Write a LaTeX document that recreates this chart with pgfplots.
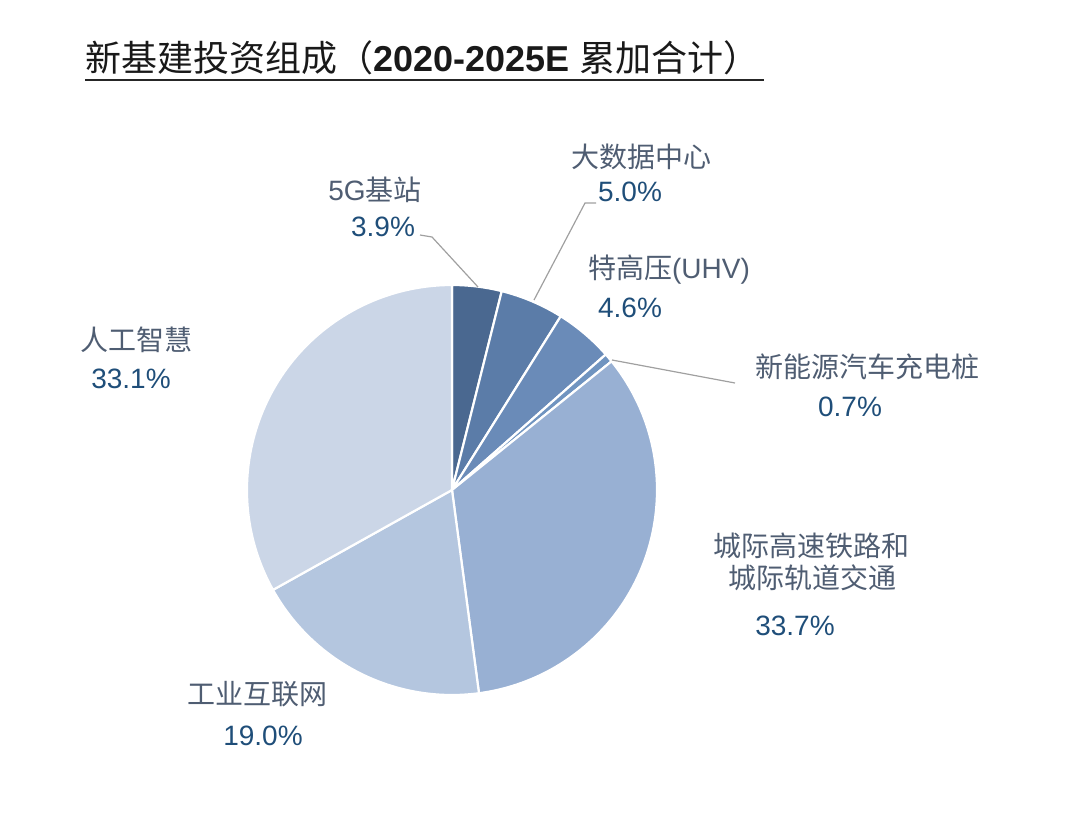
\documentclass[border=0pt]{standalone}
\usepackage{pgfplots}
\pgfplotsset{compat=1.18}
\usepackage{pgfplotstable}
\usepackage{fontspec}
\setmainfont{Liberation Sans}
\newfontfamily\cjk{Noto Sans CJK SC}

\definecolor{pc0}{HTML}{4A6890}
\definecolor{pc1}{HTML}{5B7CA8}
\definecolor{pc2}{HTML}{6A8BB8}
\definecolor{pc3}{HTML}{7094C0}
\definecolor{pc4}{HTML}{98B0D3}
\definecolor{pc5}{HTML}{B4C6DF}
\definecolor{pc6}{HTML}{CBD6E7}
\definecolor{lblc}{HTML}{4F5D72}
\definecolor{pctc}{HTML}{1F4E79}
\definecolor{leadc}{HTML}{A0A0A0}

\pgfplotstableread{
name value
5G 3.9
BigData 5.0
UHV 4.6
EV 0.7
Rail 33.7
IIoT 19.0
AI 33.1
}\piedata

% build slice commands from the table (angles clockwise from 12 o'clock)
\def\slices{}
\xdef\cum{0}
\pgfplotstableforeachcolumnelement{value}\of\piedata\as\v{%
  \pgfmathsetmacro\a{90-3.6*\cum}%
  \pgfmathsetmacro\cumnew{\cum+\v}%
  \pgfmathsetmacro\b{90-3.6*\cumnew}%
  \xdef\cum{\cumnew}%
  \xdef\slices{\slices\noexpand\fill[fill=pc\pgfplotstablerow, draw=white, line width=1.1pt, line join=round] (axis cs:452,326) -- ++(\a:102.5pt) arc[start angle=\a, end angle=\b, radius=102.5pt] -- cycle;}%
}

\begin{document}
\begin{tikzpicture}
\begin{axis}[
  width=540pt, height=408pt, scale only axis,
  xmin=0, xmax=1080, ymin=0, ymax=816,
  enlargelimits=false, hide axis, clip=false,
]
\path (axis cs:0,0) rectangle (axis cs:1080,816);
\slices

% title
\node[anchor=west, inner sep=0, text=black!90, font=\fontsize{18pt}{20pt}\selectfont] at (axis cs:85,758)
  {{\cjk 新基建投资组成（}\textbf{2020-2025E} {\cjk 累加合计）}};
\draw[line width=1.2pt, black!85] (axis cs:85,736) -- (axis cs:764,736);

% leader lines
\draw[leadc, line width=0.6pt] (axis cs:478,529) -- (axis cs:432,579) -- (axis cs:420,581);
\draw[leadc, line width=0.6pt] (axis cs:534,516) -- (axis cs:585,613) -- (axis cs:596,613);
\draw[leadc, line width=0.6pt] (axis cs:612,456) -- (axis cs:735,433);

% labels
\begin{scope}[every node/.style={inner sep=0, font=\fontsize{14pt}{16pt}\selectfont}]
\node[text=lblc] at (axis cs:375,626) {5G{\cjk 基站}};
\node[text=pctc] at (axis cs:383,589) {3.9\%};
\node[text=lblc] at (axis cs:641,659) {{\cjk 大数据中心}};
\node[text=pctc] at (axis cs:630,624) {5.0\%};
\node[text=lblc] at (axis cs:669,546) {{\cjk 特高压}(UHV)};
\node[text=pctc] at (axis cs:630,508) {4.6\%};
\node[text=lblc] at (axis cs:867,449) {{\cjk 新能源汽车充电桩}};
\node[text=pctc] at (axis cs:850,409) {0.7\%};
\node[text=lblc] at (axis cs:811,270) {{\cjk 城际高速铁路和}};
\node[text=lblc] at (axis cs:812,238) {{\cjk 城际轨道交通}};
\node[text=pctc] at (axis cs:795,190) {33.7\%};
\node[text=lblc] at (axis cs:257,122) {{\cjk 工业互联网}};
\node[text=pctc] at (axis cs:263,80) {19.0\%};
\node[text=lblc] at (axis cs:136,476) {{\cjk 人工智慧}};
\node[text=pctc] at (axis cs:131,437) {33.1\%};
\end{scope}
\end{axis}
\end{tikzpicture}
\end{document}
